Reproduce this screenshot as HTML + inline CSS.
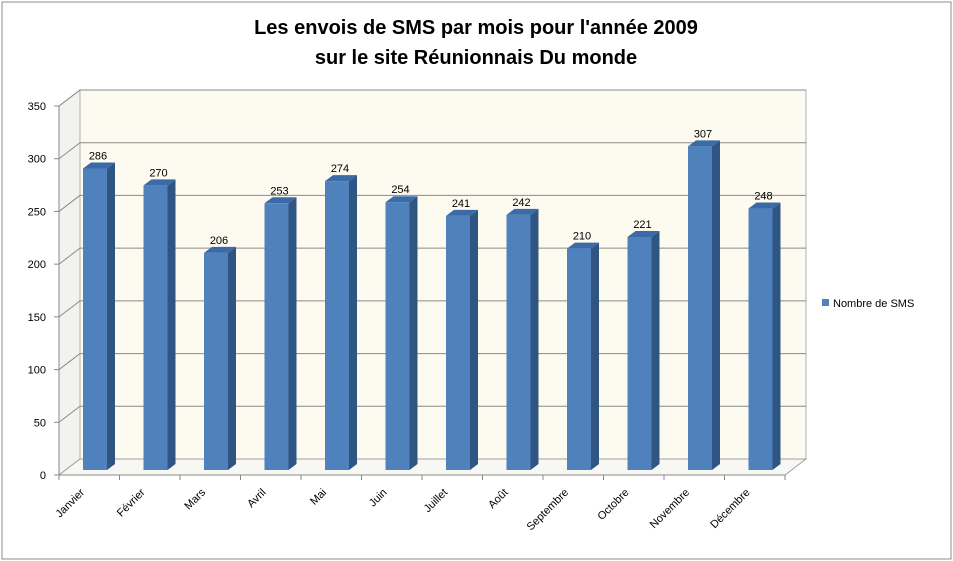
<!DOCTYPE html>
<html><head><meta charset="utf-8"><style>
body{margin:0;background:#fff}
svg{display:block;font-family:"Liberation Sans",sans-serif}
</style></head><body>
<svg id="chart" width="953" height="561" viewBox="0 0 953 561">
<rect x="2" y="2" width="949" height="557" fill="#fff" stroke="#8c8c8c" stroke-width="1"/>
<text x="476" y="34" text-anchor="middle" font-size="20" font-weight="bold" fill="#000">Les envois de SMS par mois pour l'année 2009</text>
<text x="476" y="64" text-anchor="middle" font-size="20" font-weight="bold" fill="#000">sur le site Réunionnais Du monde</text>
<g id="plot"></g>
<rect x="822" y="299" width="7" height="7" fill="#4f81bd"/>
<text x="833" y="307" font-size="11" fill="#000">Nombre de SMS</text>
</svg>
<script>
const categories=["Janvier","Février","Mars","Avril","Mai","Juin","Juillet","Août","Septembre","Octobre","Novembre","Décembre"];
const values=[286,270,206,253,274,254,241,242,210,221,307,248];
const ticks=[0,50,100,150,200,250,300,350];
const NS="http://www.w3.org/2000/svg";
const g=document.getElementById('plot');
function mk(t,a){const e=document.createElementNS(NS,t);for(const k in a)e.setAttribute(k,a[k]);g.appendChild(e);return e;}
const X0=59,Y0=475,DX=21,DY=-16,K=369/350,STEP=60.5;
function yF(v){return Y0-v*K;}
function xC(i){return 95+STEP*i;}
// back wall
let e=mk('polygon',{points:`${X0},${Y0} ${X0+DX},${Y0+DY} ${X0+DX},${yF(350)+DY} ${X0},${yF(350)}`,fill:'#f2f2ee',stroke:'#b0b0b0'});

e=mk('rect',{x:X0+DX,y:yF(350)+DY,width:806-X0-DX,height:350*K,fill:'#fdfaf0',stroke:'#b0b0b0'});

e=mk('polygon',{points:`${X0},${Y0} ${X0+DX},${Y0+DY} 806,${Y0+DY} 785,${Y0}`,fill:'#f7f7f4',stroke:'#a0a0a0'});

ticks.forEach(t=>{
 const y=yF(t);
 if(t>0){e=mk('polyline',{points:`${X0},${y} ${X0+DX},${y+DY} 806,${y+DY}`,fill:'none',stroke:'#8a8a8a','stroke-width':1});
 }
 e=mk('line',{x1:X0-5,y1:y,x2:X0,y2:y,stroke:'#888'});
 
 e=mk('text',{x:46,y:y+4,'text-anchor':'end','font-size':11,fill:'#000'});e.textContent=t;
 
});
e=mk('line',{x1:X0,y1:Y0,x2:X0,y2:yF(350),stroke:'#888'});

e=mk('line',{x1:X0,y1:Y0,x2:785,y2:Y0,stroke:'#888'});

for(let i=0;i<=12;i++){e=mk('line',{x1:X0+STEP*i,y1:Y0,x2:X0+STEP*i,y2:Y0+5,stroke:'#888'});
 }
values.forEach((v,i)=>{
 const c=xC(i),l=c-12,r=c+12,top=yF(v)-5,bot=470,d=8,u=6;
 e=mk('polygon',{points:`${r},${bot} ${r+d},${bot-u} ${r+d},${top-u} ${r},${top}`,fill:'#2f5583'});
 
 e=mk('polygon',{points:`${l},${top} ${l+d},${top-u} ${r+d},${top-u} ${r},${top}`,fill:'#3c6aa6'});
 
 e=mk('rect',{x:l,y:top,width:24,height:bot-top,fill:'#4f81bd'});
 
 e=mk('text',{x:c+3,y:top-9,'text-anchor':'middle','font-size':11,fill:'#000'});e.textContent=v;
 
 e=mk('text',{x:c-10,y:493,'text-anchor':'end','font-size':11,fill:'#000',transform:`rotate(-45 ${c-10} 493)`});e.textContent=categories[i];
 
});
</script>
</body></html>
